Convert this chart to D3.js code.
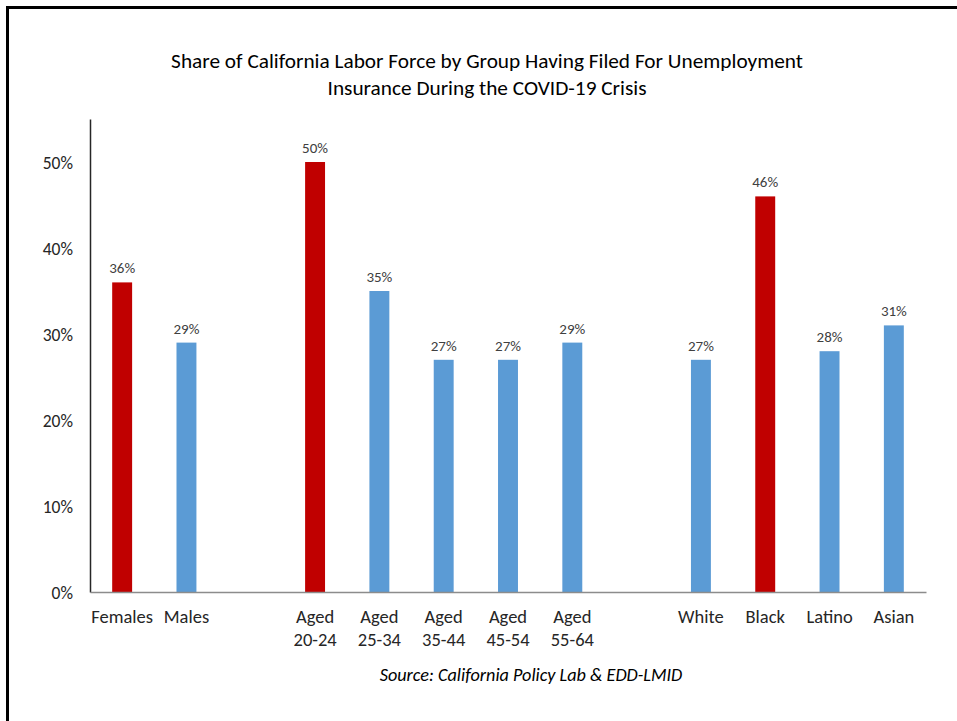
<!DOCTYPE html>
<html>
<head>
<meta charset="utf-8">
<script src="https://cdn.jsdelivr.net/npm/d3@7"></script>
<style>
  html, body { margin: 0; padding: 0; background: #fff; }
  svg { display: block; }
  text { font-family: Carlito, Calibri, Lato, "Noto Sans", sans-serif; }
</style>
</head>
<body>
<svg id="chart" width="957" height="721"></svg>
<script>
const categories = ["Females", "Males", "", "Aged\n20-24", "Aged\n25-34", "Aged\n35-44", "Aged\n45-54", "Aged\n55-64", " ", "White", "Black", "Latino", "Asian"];
const values = [0.36, 0.29, null, 0.50, 0.35, 0.27, 0.27, 0.29, null, 0.27, 0.46, 0.28, 0.31];
const highlight = [true, false, false, true, false, false, false, false, false, false, true, false, false];
const yTicks = [0, 0.1, 0.2, 0.3, 0.4, 0.5];
const titleLines = ["Share of California Labor Force by Group Having Filed For Unemployment", "Insurance During the COVID-19 Crisis"];
const sourceText = "Source: California Policy Lab & EDD-LMID";

const svg = d3.select("#chart");
const margin = { left: 90, right: 31, top: 119, bottom: 129 };
const W = 957, H = 721;

// frame
svg.append("path")
  .attr("d", `M7.5,${H + 5} L7.5,7.5 L${W + 5},7.5`)
  .attr("fill", "none").attr("stroke", "#000").attr("stroke-width", 3);

const x = d3.scaleBand().domain(categories)
  .range([margin.left, W - margin.right]).paddingInner(0.69).paddingOuter(0.345);
const y = d3.scaleLinear().domain([0, 0.55]).range([H - margin.bottom, margin.top]);

// title
svg.append("text").attr("text-anchor", "middle").attr("font-size", 21.3).attr("fill", "#000")
  .selectAll("tspan").data(titleLines).join("tspan")
  .attr("x", 487).attr("y", (d, i) => 68 + i * 27).text(d => d);

// bars
const data = categories.map((c, i) => ({ c, v: values[i], h: highlight[i] })).filter(d => d.v != null);
svg.append("g").selectAll("rect").data(data).join("rect")
  .attr("x", d => x(d.c)).attr("width", x.bandwidth())
  .attr("y", d => y(d.v)).attr("height", d => y(0) - y(d.v))
  .attr("fill", d => d.h ? "#C00000" : "#5B9BD5");

// data labels
svg.append("g").selectAll("text").data(data).join("text")
  .attr("x", d => x(d.c) + x.bandwidth() / 2).attr("y", d => y(d.v) - 9)
  .attr("text-anchor", "middle").attr("font-size", 15).attr("fill", "#404040")
  .text(d => d3.format(".0%")(d.v));

// y axis
const yAxis = svg.append("g").attr("transform", `translate(${margin.left},0)`)
  .call(d3.axisLeft(y).tickValues(yTicks).tickFormat(d3.format(".0%")).tickSize(0).tickPadding(17));
yAxis.select(".domain").attr("stroke", "#262626").attr("stroke-width", 1.5);
yAxis.selectAll("text").attr("font-size", 17.5).attr("fill", "#262626")
  .attr("text-anchor", "end").attr("x", -17).attr("dy", "0.35em");

// x axis
const xAxis = svg.append("g").attr("transform", `translate(0,${y(0)})`)
  .call(d3.axisBottom(x).tickSize(0).tickFormat(""));
xAxis.select(".domain").attr("stroke", "#8c8c8c").attr("stroke-width", 1.5);
xAxis.selectAll(".tick").each(function(d) {
  const lines = d.trim() ? d.split("\n") : [];
  const t = d3.select(this).append("text").attr("fill", "#262626").attr("font-size", 18.5)
    .attr("text-anchor", "middle");
  lines.forEach((l, i) => t.append("tspan").attr("x", 0).attr("y", 31 + i * 23).text(l));
});

// source
svg.append("text").attr("x", 531).attr("y", 681).attr("text-anchor", "middle")
  .attr("font-size", 18.2).attr("font-style", "italic").attr("fill", "#000").text(sourceText);
</script>
</body>
</html>
